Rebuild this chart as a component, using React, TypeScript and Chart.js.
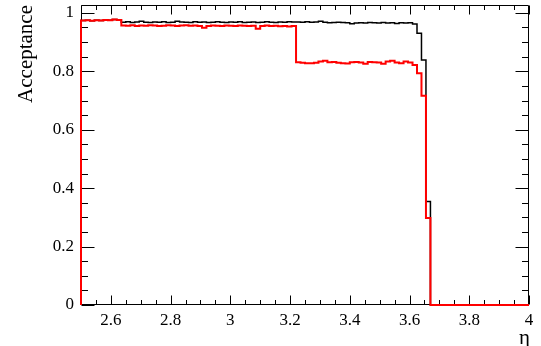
import React, { useEffect, useRef } from "react";
import { Chart, registerables } from "chart.js";

Chart.register(...registerables);

// ---------- data ----------
const X_MIN = 2.5;
const X_MAX = 4.0;
const BIN_WIDTH = 0.015; // 100 bins between 2.5 and 4
const Y_MIN = 0;
const Y_MAX = 1.027;
const X_MINOR_STEP = 0.05;
const Y_MINOR_STEP = 0.05;

const xTickValues = [2.6, 2.8, 3.0, 3.2, 3.4, 3.6, 3.8, 4.0];
const xTickLabels = ["2.6", "2.8", "3", "3.2", "3.4", "3.6", "3.8", "4"];
const yTickValues = [0, 0.2, 0.4, 0.6, 0.8, 1.0];
const yTickLabels = ["0", "0.2", "0.4", "0.6", "0.8", "1"];

const xTitle = "η";
const yTitle = "Acceptance";

// black histogram (bin contents, 100 bins)
const blackAcceptance = [
  0.974, 0.975, 0.973, 0.975, 0.974, 0.976, 0.975, 0.977, 0.976, 0.968,
  0.970, 0.967, 0.969, 0.971, 0.968, 0.967, 0.969, 0.968, 0.970, 0.967,
  0.968, 0.971, 0.969, 0.968, 0.967, 0.970, 0.968, 0.969, 0.967, 0.968,
  0.970, 0.968, 0.967, 0.969, 0.968, 0.970, 0.967, 0.968, 0.969, 0.967,
  0.968, 0.970, 0.968, 0.967, 0.969, 0.968, 0.970, 0.969, 0.969, 0.968,
  0.970, 0.968, 0.969, 0.971, 0.968, 0.966, 0.967, 0.968, 0.967, 0.966,
  0.963, 0.965, 0.966, 0.965, 0.967, 0.966, 0.965, 0.967, 0.965, 0.966,
  0.964, 0.966, 0.965, 0.966, 0.962, 0.930, 0.839, 0.354, 0, 0,
  0, 0, 0, 0, 0, 0, 0, 0, 0, 0,
  0, 0, 0, 0, 0, 0, 0, 0, 0, 0,
];

// red histogram (bin contents, 100 bins)
const redAcceptance = [
  0.974, 0.975, 0.973, 0.975, 0.974, 0.976, 0.975, 0.977, 0.976, 0.957,
  0.956, 0.958, 0.955, 0.957, 0.956, 0.958, 0.957, 0.955, 0.956, 0.958,
  0.957, 0.955, 0.957, 0.958, 0.956, 0.957, 0.955, 0.949, 0.955, 0.957,
  0.956, 0.955, 0.957, 0.956, 0.955, 0.957, 0.956, 0.955, 0.956, 0.946,
  0.955, 0.957, 0.955, 0.956, 0.954, 0.955, 0.953, 0.955, 0.831, 0.829,
  0.828, 0.828, 0.829, 0.834, 0.836, 0.831, 0.832, 0.829, 0.828, 0.827,
  0.831, 0.832, 0.830, 0.826, 0.832, 0.831, 0.830, 0.826, 0.834, 0.836,
  0.830, 0.828, 0.834, 0.830, 0.822, 0.793, 0.716, 0.298, 0, 0,
  0, 0, 0, 0, 0, 0, 0, 0, 0, 0,
  0, 0, 0, 0, 0, 0, 0, 0, 0, 0,
];

// ---------- helpers ----------
function histPoints(values: number[]) {
  const pts: { x: number; y: number }[] = [{ x: X_MIN, y: 0 }];
  values.forEach((v, i) => pts.push({ x: X_MIN + i * BIN_WIDTH, y: v }));
  pts.push({ x: X_MAX, y: values[values.length - 1] });
  return pts;
}

const FONT = "'Liberation Serif', 'Times New Roman', serif";
Chart.defaults.font.family = FONT;

const isMajor = (v: number, majors: number[]) =>
  majors.some((m) => Math.abs(m - v) < 1e-6);

const framePlugin = {
  id: "rootFrame",
  beforeDatasetsDraw(chart: any) {
    const { ctx, chartArea, scales } = chart;
    const { left, right, top, bottom } = chartArea;
    const xs = scales.x;
    const ys = scales.y;
    const L = Math.round(left) + 0.5;
    const R = Math.round(right) - 0.5;
    const T = Math.round(top) + 0.5;
    const B = Math.round(bottom) - 0.5;
    ctx.save();
    ctx.strokeStyle = "#000";
    ctx.lineWidth = 1;
    ctx.beginPath();
    ctx.rect(L, T, R - L, B - T);
    // x ticks (bottom & top)
    const nx = Math.round((X_MAX - X_MIN) / X_MINOR_STEP);
    for (let k = 0; k <= nx; k++) {
      const v = X_MIN + k * X_MINOR_STEP;
      const px = Math.round(xs.getPixelForValue(v)) + 0.5;
      const len = isMajor(v, xTickValues) ? 9 : 4.5;
      ctx.moveTo(px, B);
      ctx.lineTo(px, B - len);
      ctx.moveTo(px, T);
      ctx.lineTo(px, T + len);
    }
    // y ticks (left & right)
    const ny = Math.floor((Y_MAX - Y_MIN) / Y_MINOR_STEP + 1e-6);
    for (let k = 0; k <= ny; k++) {
      const v = Y_MIN + k * Y_MINOR_STEP;
      const py = Math.round(ys.getPixelForValue(v)) + 0.5;
      const len = isMajor(v, yTickValues) ? 13 : 6.5;
      ctx.moveTo(L, py);
      ctx.lineTo(L + len, py);
      ctx.moveTo(R, py);
      ctx.lineTo(R - len, py);
    }
    ctx.stroke();
    ctx.restore();
  },
  afterDraw(chart: any) {
    const { ctx, chartArea } = chart;
    ctx.save();
    ctx.fillStyle = "#000";
    ctx.font = `21px ${FONT}`;
    // y title
    ctx.save();
    ctx.translate(32, chartArea.top);
    ctx.rotate(-Math.PI / 2);
    ctx.textAlign = "right";
    ctx.textBaseline = "alphabetic";
    ctx.fillText(yTitle, 0, 0);
    ctx.restore();
    // x title
    ctx.textAlign = "right";
    ctx.textBaseline = "alphabetic";
    ctx.fillText(xTitle, chartArea.right + 1, 344);
    ctx.restore();
  },
};

export default function App() {
  const ref = useRef<HTMLCanvasElement | null>(null);

  useEffect(() => {
    if (!ref.current) return;
    const chart = new Chart(ref.current, {
      type: "line",
      data: {
        datasets: [
          {
            label: "red",
            data: histPoints(redAcceptance),
            borderColor: "#ff0000",
            borderWidth: 2,
            stepped: "before",
            pointRadius: 0,
            fill: false,
            tension: 0,
            order: 0,
            clip: false,
          } as any,
          {
            label: "black",
            data: histPoints(blackAcceptance),
            borderColor: "#000000",
            borderWidth: 1.5,
            stepped: "before",
            pointRadius: 0,
            fill: false,
            tension: 0,
            order: 1,
            clip: false,
          } as any,
        ],
      },
      options: {
        animation: false,
        responsive: false,
        devicePixelRatio: 1,
        layout: { padding: { top: 5, right: 12, left: 0, bottom: 0 } },
        plugins: {
          legend: { display: false },
          tooltip: { enabled: false },
        },
        scales: {
          x: {
            type: "linear",
            min: X_MIN,
            max: X_MAX,
            grid: { display: false, drawTicks: false },
            border: { display: false },
            ticks: {
              autoSkip: false,
              maxRotation: 0,
              padding: 5,
              color: "#000",
              font: { family: FONT, size: 17 },
              callback: (value: any) => {
                const i = xTickValues.findIndex((t) => Math.abs(t - Number(value)) < 1e-9);
                return i >= 0 ? xTickLabels[i] : "";
              },
            },
            afterBuildTicks: (s: any) => {
              s.ticks = xTickValues.map((v) => ({ value: v }));
            },
            afterFit: (s: any) => {
              s.height = 41;
              s.paddingLeft = 0;
              s.paddingRight = 0;
            },
          },
          y: {
            type: "linear",
            min: Y_MIN,
            max: Y_MAX,
            grid: { display: false, drawTicks: false },
            border: { display: false },
            ticks: {
              autoSkip: false,
              padding: 7,
              color: "#000",
              font: { family: FONT, size: 17 },
              callback: (value: any) => {
                const i = yTickValues.findIndex((t) => Math.abs(t - Number(value)) < 1e-9);
                return i >= 0 ? yTickLabels[i] : "";
              },
            },
            afterBuildTicks: (s: any) => {
              s.ticks = yTickValues.map((v) => ({ value: v }));
            },
            afterFit: (s: any) => {
              s.width = 81;
              s.paddingTop = 0;
              s.paddingBottom = 0;
            },
          },
        },
      } as any,
      plugins: [framePlugin],
    });
    return () => chart.destroy();
  }, []);

  return (
    <div style={{ position: "fixed", left: 0, top: 0, width: 541, height: 346, background: "#fff" }}>
      <canvas ref={ref} width={541} height={346} style={{ display: "block" }} />
    </div>
  );
}
